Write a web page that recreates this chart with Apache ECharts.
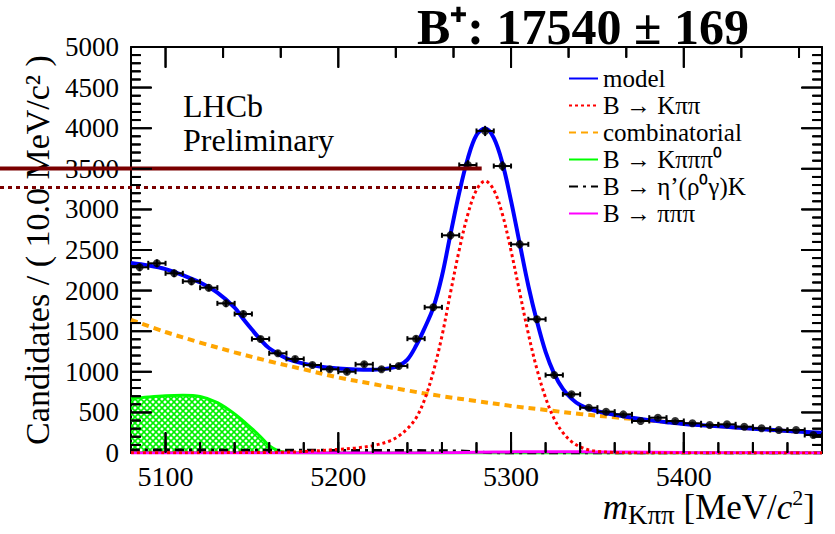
<!DOCTYPE html>
<html><head><meta charset="utf-8">
<script src="https://cdn.jsdelivr.net/npm/echarts@6/dist/echarts.min.js"></script>
<style>html,body{margin:0;padding:0;background:#fff}#c{width:835px;height:534px}</style>
</head><body><div id="c"></div>
<script>
// ---- data ----
const binCenters = [5085,5095,5105,5115,5125,5135,5145,5155,5165,5175,5185,5195,5205,5215,5225,5235,5245,5255,5265,5275,5285,5295,5305,5315,5325,5335,5345,5355,5365,5375,5385,5395,5405,5415,5425,5435,5445,5455,5465,5475];
const counts = [2287,2336,2213,2114,2036,1843,1712,1404,1228,1158,1084,1031,1001,1092,1031,1071,1408,1794,2681,3547,3966,3534,2570,1647,960,723,558,509,476,394,435,394,366,345,353,324,304,283,283,222];
const countErrors = [48,48,47,46,45,43,41,37,35,34,33,32,32,33,32,33,37,42,52,60,63,59,51,41,31,27,24,23,22,20,21,20,19,19,19,18,17,17,17,15];
const binHalfWidth = 5;

const modelX = [5080,5090,5100,5110,5120,5130,5140,5145,5150,5155,5160,5170,5180,5190,5200,5210,5220,5230,5235,5240,5245,5250,5255,5260,5265,5270,5275,5280,5285,5290,5295,5300,5305,5310,5315,5320,5325,5330,5335,5340,5345,5350,5360,5370,5380,5390,5400,5420,5440,5460,5480];
const modelY = [2340,2310,2265,2190,2100,1975,1790,1650,1520,1395,1290,1165,1100,1062,1040,1028,1025,1045,1075,1150,1320,1540,1790,2180,2700,3205,3630,3915,3995,3880,3570,3105,2580,2060,1620,1245,975,790,670,590,545,515,470,435,405,380,358,328,300,272,248];

const sigX = [5080,5100,5120,5140,5160,5170,5180,5190,5200,5210,5220,5230,5235,5240,5245,5250,5255,5260,5265,5270,5275,5280,5285,5290,5295,5300,5305,5310,5315,5320,5325,5330,5335,5340,5345,5350,5360,5370,5400,5440,5480];
const sigY = [2,3,4,5,7,10,18,30,45,62,90,150,210,300,430,660,1000,1440,1980,2500,2940,3240,3350,3240,2940,2490,1980,1470,1030,680,420,250,140,75,38,20,5,1,0,0,0];

const combX = [5080,5100,5120,5140,5160,5180,5200,5220,5240,5260,5280,5300,5320,5340,5360,5380,5400,5420,5440,5460,5480];
const combY = [1640,1490,1360,1240,1130,1030,930,850,770,700,640,580,530,480,440,400,360,330,300,270,245];

const k3piX = [5080,5090,5100,5110,5120,5130,5140,5150,5155,5160,5165,5170,5180,5200,5300,5400,5480];
const k3piY = [670,690,705,710,695,620,480,300,200,90,30,8,2,0,0,0,0];

const etapX = [5080,5120,5160,5200,5240,5270,5280,5290,5300,5400,5480];
const etapY = [38,36,34,32,30,24,12,3,0,0,0];

const pipipiX = [5080,5200,5260,5280,5300,5320,5340,5360,5400,5440,5480];
const pipipiY = [0,0,2,8,14,16,15,12,6,3,1];

const refSolid = {y: 3505, xEnd: 5283};
const refDotted = {y: 3270, xEnd: 5282};

// axis ranges and tick positions
const xRange = [5080, 5480];
const yRange = [0, 5000];
const yMajorStep = 500;
const xMajorTicks = [5100, 5200, 5300, 5400];
const xMinorTicks = [5100,5120,5140,5160,5180,5200,5220,5240,5260,5280,5300,5320,5340,5360,5380,5400,5420,5440,5460];
const topMinorTicks = [5133.3,5166.7,5233.3,5266.7,5333.3,5366.7,5433.3,5466.7];
const yMajorTicks = [500,1000,1500,2000,2500,3000,3500,4000,4500];
const yMinorTicks = [100,200,300,400,600,700,800,900,1100,1200,1300,1400,1600,1700,1800,1900,2100,2200,2300,2400,2600,2700,2800,2900,3100,3200,3300,3400,3600,3700,3800,3900,4100,4200,4300,4400,4600,4700,4800,4900];

const legendNames = ['model','B → Kππ','combinatorial','B → Kπππ⁰','B → η’(ρ⁰γ)K','B → πππ'];
const titleText = 'B⁺: 17540 ± 169';
const yTitle = 'Candidates / ( 10.0 MeV/c² )';

// ---- layout ----
const W = 835, H = 534;
const G = {left: 131, right: 13, top: 47, bottom: 81};
const MAJ = 20, MIN = 10, YMIN = 9;   // tick lengths in px
const xPerPx = (xRange[1] - xRange[0]) / (W - G.left - G.right);
const yPerPx = (yRange[1] - yRange[0]) / (H - G.top - G.bottom);

// ---- helpers ----
const zip = (xs, ys) => xs.map((x, i) => [x, ys[i]]);
function hatch() {
  const s = 6, c = document.createElement('canvas');
  c.width = s; c.height = s;
  const g = c.getContext('2d');
  g.strokeStyle = '#00f000'; g.lineWidth = 1.6;
  g.beginPath();
  g.moveTo(0, 0); g.lineTo(s, s);
  g.moveTo(s, 0); g.lineTo(0, s);
  g.stroke();
  return c;
}
const serif = 'Liberation Serif';
const black = '#000';
const plain = v => String(v);

// tick segments in axis units, broken by nulls
const tickSeg = [];
function seg(a, b) { tickSeg.push(a, b, null); }
xMajorTicks.forEach(v => { seg([v, yRange[0]], [v, yRange[0] + MAJ * yPerPx]); seg([v, yRange[1]], [v, yRange[1] - MAJ * yPerPx]); });
xMinorTicks.forEach(v => seg([v, yRange[0]], [v, yRange[0] + MIN * yPerPx]));
topMinorTicks.forEach(v => seg([v, yRange[1]], [v, yRange[1] - MIN * yPerPx]));
yMajorTicks.forEach(v => { seg([xRange[0], v], [xRange[0] + MAJ * xPerPx, v]); seg([xRange[1], v], [xRange[1] - MAJ * xPerPx, v]); });
yMinorTicks.forEach(v => { seg([xRange[0], v], [xRange[0] + YMIN * xPerPx, v]); seg([xRange[1], v], [xRange[1] - YMIN * xPerPx, v]); });

function xFrame(pos) {
  return {type: 'value', min: xRange[0], max: xRange[1], position: pos,
    axisLine: {show: true, onZero: false, lineStyle: {color: black, width: 2}},
    splitLine: {show: false}, axisTick: {show: false},
    axisLabel: {show: pos === 'bottom', formatter: plain, fontFamily: serif, fontSize: 28, color: black, margin: 9, showMinLabel: false, showMaxLabel: false}};
}
function yFrame(pos) {
  return {type: 'value', min: yRange[0], max: yRange[1], interval: yMajorStep, position: pos,
    axisLine: {show: true, onZero: false, lineStyle: {color: black, width: 2}},
    splitLine: {show: false}, axisTick: {show: false},
    axisLabel: {show: pos === 'left', formatter: plain, fontFamily: serif, fontSize: 27, color: black, margin: 12},
    name: pos === 'left' ? yTitle : '', nameLocation: 'middle', nameGap: 74, nameRotate: 90,
    nameTextStyle: {fontFamily: serif, fontSize: 34, color: black}};
}

const chart = echarts.init(document.getElementById('c'), null, {renderer: 'svg'});
const lineBase = {type: 'line', symbol: 'none', smooth: 0.35, xAxisIndex: 0, yAxisIndex: 0, animation: false};
const xAxisTitleRich = {
  m: {fontFamily: serif, fontStyle: 'italic', fontSize: 35, fill: black, lineHeight: 42, verticalAlign: 'middle'},
  s: {fontFamily: serif, fontSize: 27, fill: black, lineHeight: 42, verticalAlign: 'bottom'},
  t: {fontFamily: serif, fontSize: 35, fill: black, lineHeight: 42, verticalAlign: 'middle'},
  c: {fontFamily: serif, fontStyle: 'italic', fontSize: 35, fill: black, lineHeight: 42, verticalAlign: 'middle'},
  p: {fontFamily: serif, fontSize: 22, fill: black, lineHeight: 42, verticalAlign: 'top'}
};
const textGraphics = [
  {type: 'text', left: 183, top: 89, style: {text: 'LHCb\nPreliminary', font: '32px "Liberation Serif"', fill: black, lineHeight: 34}},
  {type: 'text', right: 20, top: 486, style: {text: '{m|m}{s|Kππ}{t| [MeV/}{c|c}{p|2}{t|]}', rich: xAxisTitleRich}}
];

chart.setOption({
  animation: false,
  backgroundColor: '#fff',
  title: {text: titleText, left: 412, top: -3, textStyle: {fontFamily: serif, fontWeight: 'bold', fontSize: 50, color: black}},
  grid: {left: G.left, right: G.right, top: G.top, bottom: G.bottom, containLabel: false},
  xAxis: [xFrame('bottom'), xFrame('top')],
  yAxis: [yFrame('left'), yFrame('right')],
  legend: {
    data: legendNames, orient: 'vertical', left: 563, top: 61,
    itemWidth: 29, itemHeight: 12, itemGap: 2,
    itemStyle: {opacity: 0},
    textStyle: {fontFamily: serif, fontSize: 25, color: black},
    selectedMode: false
  },
  graphic: textGraphics,
  series: [
    Object.assign({}, lineBase, {name: 'combinatorial', data: zip(combX, combY), z: 3,
      lineStyle: {color: '#ffa500', width: 4, type: [7, 5]}, itemStyle: {color: '#ffa500'}}),
    Object.assign({}, lineBase, {name: 'B → Kπππ⁰', data: zip(k3piX, k3piY), z: 2,
      lineStyle: {color: '#00ff00', width: 3}, itemStyle: {color: '#00ff00'},
      areaStyle: {color: {image: hatch(), repeat: 'repeat'}, opacity: 1}}),
    Object.assign({}, lineBase, {name: 'B → η’(ρ⁰γ)K', data: zip(etapX, etapY), z: 3,
      lineStyle: {color: black, width: 3, type: [9, 5, 3, 5]}, itemStyle: {color: black}}),
    Object.assign({}, lineBase, {name: 'B → πππ', data: zip(pipipiX, pipipiY), z: 3,
      lineStyle: {color: '#ff00ff', width: 3}, itemStyle: {color: '#ff00ff'}}),
    Object.assign({}, lineBase, {name: 'B → Kππ', data: zip(sigX, sigY), z: 4,
      lineStyle: {color: '#ff0000', width: 3, type: [3, 3]}, itemStyle: {color: '#ff0000'}}),
    Object.assign({}, lineBase, {name: 'model', data: zip(modelX, modelY), z: 5,
      lineStyle: {color: '#0000ff', width: 4}, itemStyle: {color: '#0000ff'}}),
    {
      type: 'custom', name: 'errors', z: 6, xAxisIndex: 0, yAxisIndex: 0,
      data: binCenters.map((x, i) => [x, counts[i], countErrors[i]]),
      renderItem: function (params, api) {
        const x = api.value(0), y = api.value(1), e = api.value(2);
        const l = api.coord([x - binHalfWidth, y]), r = api.coord([x + binHalfWidth, y]);
        const t = api.coord([x, y + e]), b = api.coord([x, y - e]);
        const st = {stroke: black, lineWidth: 2};
        return {type: 'group', children: [
          {type: 'line', shape: {x1: l[0], y1: l[1], x2: r[0], y2: r[1]}, style: st},
          {type: 'line', shape: {x1: t[0], y1: t[1], x2: b[0], y2: b[1]}, style: st},
          {type: 'line', shape: {x1: l[0], y1: l[1] - 2.5, x2: l[0], y2: l[1] + 2.5}, style: st},
          {type: 'line', shape: {x1: r[0], y1: r[1] - 2.5, x2: r[0], y2: r[1] + 2.5}, style: st}
        ]};
      }
    },
    {type: 'scatter', name: 'data', z: 7, xAxisIndex: 0, yAxisIndex: 0, symbol: 'circle', symbolSize: 8,
      itemStyle: {color: black}, data: zip(binCenters, counts)},
    {type: 'line', name: 'frameTicks', z: 9, silent: true, clip: false, symbol: 'none', smooth: false,
      connectNulls: false, xAxisIndex: 0, yAxisIndex: 0, data: tickSeg,
      lineStyle: {color: black, width: 2}, itemStyle: {color: black}}
  ]
});

// positions through the chart's own scales
const finder = {xAxisIndex: 0, yAxisIndex: 0};
const px = (x, y) => chart.convertToPixel(finder, [x, y]);
const tickRects = [];
function vRect(p, len, down) { tickRects.push({type: 'rect', z: 40, silent: true, shape: {x: p[0] - 1, y: down ? p[1] + 1 : p[1] - len - 1, width: 2, height: len}, style: {fill: black}}); }
function hRect(p, len, right) { tickRects.push({type: 'rect', z: 40, silent: true, shape: {x: right ? p[0] + 1 : p[0] - len - 1, y: p[1] - 1, width: len, height: 2}, style: {fill: black}}); }
xMajorTicks.forEach(v => { vRect(px(v, yRange[0]), MAJ, false); vRect(px(v, yRange[1]), MAJ, true); });
xMinorTicks.forEach(v => vRect(px(v, yRange[0]), MIN, false));
topMinorTicks.forEach(v => vRect(px(v, yRange[1]), MIN, true));
yMajorTicks.forEach(v => { hRect(px(xRange[0], v), MAJ, true); hRect(px(xRange[1], v), MAJ, false); });
yMinorTicks.forEach(v => { hRect(px(xRange[0], v), YMIN, true); hRect(px(xRange[1], v), YMIN, false); });

// dark-red reference lines that run from the page edge into the plot
const ps = px(refSolid.xEnd, refSolid.y);
const pd = px(refDotted.xEnd, refDotted.y);
chart.setOption({graphic: textGraphics.concat([
  {type: 'line', z: 20, shape: {x1: 0, y1: ps[1], x2: ps[0], y2: ps[1]}, style: {stroke: '#7a0000', lineWidth: 4}},
  {type: 'line', z: 20, shape: {x1: 0, y1: pd[1], x2: pd[0], y2: pd[1]}, style: {stroke: '#7a0000', lineWidth: 3, lineDash: [4, 4]}}
], tickRects)});
</script></body></html>
